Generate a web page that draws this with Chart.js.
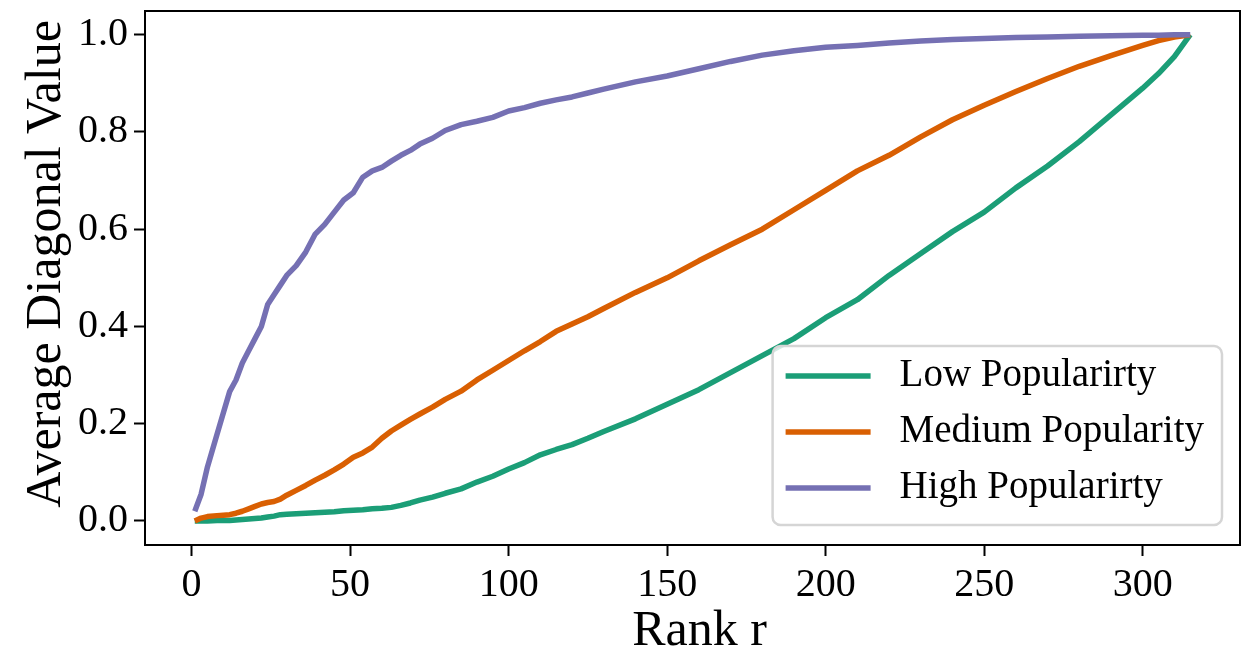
<!DOCTYPE html>
<html>
<head>
<meta charset="utf-8">
<script src="https://cdn.jsdelivr.net/npm/chart.js@4/dist/chart.umd.min.js"></script>
<style>
  body { margin: 0; background: #fff; }
  #rankChart { display: block; }
</style>
</head>
<body>
<canvas id="rankChart" width="1248" height="650"></canvas>
<script>
// values
const ranks = [1, 3, 5, 8, 10, 12, 14, 16, 18, 20, 22, 24, 26, 28, 30, 33, 36, 39, 42, 45, 48, 51, 54, 57, 60,
  63, 66, 69, 72, 76, 80, 85, 90, 95, 100, 105, 110, 115, 120, 125, 130, 140, 150, 160, 170, 180, 190, 200,
  210, 220, 230, 240, 250, 260, 270, 280, 290, 300, 305, 310, 315];

const lowPop = [0.0, 0.0, 0.0, 0.001, 0.001, 0.001, 0.002, 0.003, 0.004, 0.005, 0.006, 0.008, 0.01, 0.013, 0.014,
  0.015, 0.016, 0.017, 0.018, 0.019, 0.021, 0.022, 0.023, 0.025, 0.026, 0.028, 0.032, 0.037, 0.043, 0.049, 0.057,
  0.066, 0.08, 0.092, 0.107, 0.12, 0.136, 0.147, 0.157, 0.17, 0.184, 0.21, 0.24, 0.27, 0.305, 0.34, 0.375, 0.418,
  0.455, 0.505, 0.55, 0.595, 0.635, 0.685, 0.73, 0.78, 0.835, 0.89, 0.92, 0.955, 1.0];

const mediumPop = [0.0, 0.006, 0.009, 0.011, 0.012, 0.013, 0.016, 0.02, 0.025, 0.03, 0.035, 0.038, 0.04, 0.045,
  0.053, 0.063, 0.073, 0.084, 0.094, 0.105, 0.117, 0.131, 0.14, 0.152, 0.17, 0.185, 0.197, 0.209, 0.22, 0.234,
  0.25, 0.267, 0.29, 0.31, 0.33, 0.35, 0.369, 0.39, 0.405, 0.42, 0.437, 0.47, 0.5, 0.535, 0.568, 0.6, 0.64, 0.68,
  0.72, 0.752, 0.79, 0.825, 0.855, 0.883, 0.91, 0.935, 0.957, 0.978, 0.988, 0.995, 1.0];

const highPop = [0.02, 0.055, 0.111, 0.178, 0.222, 0.266, 0.29, 0.325, 0.35, 0.375, 0.4, 0.445, 0.465, 0.485,
  0.505, 0.525, 0.553, 0.59, 0.61, 0.635, 0.66, 0.675, 0.707, 0.72, 0.727, 0.74, 0.752, 0.762, 0.775, 0.787,
  0.803, 0.815, 0.822, 0.83, 0.843, 0.85, 0.859, 0.866, 0.872, 0.88, 0.888, 0.903, 0.915, 0.93, 0.945, 0.958,
  0.967, 0.974, 0.978, 0.983, 0.987, 0.99, 0.992, 0.994, 0.995, 0.997, 0.998, 0.999, 0.999, 1.0, 1.0];

const seriesNames = ['Low Popularirty', 'Medium Popularity', 'High Popularirty'];
const seriesColors = ['#1b9e77', '#d95f02', '#7570b3'];
const xTickValues = [0, 50, 100, 150, 200, 250, 300];
const yTickValues = [0, 0.2, 0.4, 0.6, 0.8, 1.0];
const xTitle = 'Rank r';
const yTitle = 'Average Diagonal Value';

const serif = '"Liberation Serif", "DejaVu Serif", serif';

function toPoints(vals) {
  return ranks.map((r, i) => ({ x: r, y: vals[i] }));
}

// frame round the plot area, axis titles, matplotlib-like legend in the lower right
const framePlugin = {
  id: 'frameAndLegend',
  afterDraw(chart) {
    const ctx = chart.ctx;
    const a = chart.chartArea;
    ctx.save();
    ctx.strokeStyle = '#000';
    ctx.lineWidth = 2;
    ctx.strokeRect(a.left, a.top, a.right - a.left, a.bottom - a.top);

    // axis titles
    ctx.fillStyle = '#000';
    ctx.font = '50px ' + serif;
    ctx.textAlign = 'center';
    ctx.textBaseline = 'alphabetic';
    ctx.fillText(xTitle, (a.left + a.right) / 2 + 7, chart.height - 5);
    ctx.save();
    ctx.translate(60, (a.top + a.bottom) / 2 - 14);
    ctx.rotate(-Math.PI / 2);
    ctx.fillText(yTitle, 0, 0);
    ctx.restore();

    ctx.font = '39px ' + serif;
    let textW = 0;
    chart.data.datasets.forEach(ds => { textW = Math.max(textW, ctx.measureText(ds.label).width); });
    const boxW = 127 + textW + 18;
    const boxH = 179;
    const bx = a.right - 18 - boxW;
    const by = a.bottom - 20 - boxH;

    ctx.beginPath();
    ctx.roundRect(bx, by, boxW, boxH, 8);
    ctx.fillStyle = 'rgba(255,255,255,0.8)';
    ctx.fill();
    ctx.strokeStyle = '#d5d5d5';
    ctx.lineWidth = 2.5;
    ctx.stroke();

    chart.data.datasets.forEach((ds, i) => {
      const yy = by + 30 + i * 56;
      ctx.strokeStyle = ds.borderColor;
      ctx.lineWidth = 5.5;
      ctx.beginPath();
      ctx.moveTo(bx + 13, yy);
      ctx.lineTo(bx + 98, yy);
      ctx.stroke();
      ctx.fillStyle = '#000';
      ctx.textBaseline = 'middle';
      ctx.textAlign = 'left';
      ctx.fillText(ds.label, bx + 127, yy);
    });
    ctx.restore();
  }
};

const datasets = [lowPop, mediumPop, highPop].map((vals, i) => ({
  label: seriesNames[i],
  data: toPoints(vals),
  borderColor: seriesColors[i],
  backgroundColor: seriesColors[i],
  borderWidth: 5.5,
  pointRadius: 0,
  tension: 0,
  fill: false,
  borderJoinStyle: 'round',
  order: 3 - i
}));

new Chart(document.getElementById('rankChart').getContext('2d'), {
  type: 'line',
  data: { datasets: datasets },
  options: {
    responsive: false,
    animation: false,
    devicePixelRatio: 1,
    layout: { padding: { top: 11, right: 8, left: 0, bottom: 0 } },
    plugins: {
      legend: { display: false },
      tooltip: { enabled: false }
    },
    scales: {
      x: {
        type: 'linear',
        min: -14.7,
        max: 330.7,
        afterBuildTicks: axis => { axis.ticks = xTickValues.map(v => ({ value: v })); },
        afterFit: axis => { axis.height = 105; axis.paddingLeft = 0; axis.paddingRight = 0; },
        border: { display: false },
        grid: { drawOnChartArea: false, drawTicks: true, tickLength: 11, tickWidth: 2, tickColor: '#000' },
        ticks: { color: '#000', padding: 5, maxRotation: 0, font: { family: serif, size: 40 } }
      },
      y: {
        min: -0.0494,
        max: 1.0487,
        afterBuildTicks: axis => { axis.ticks = yTickValues.map(v => ({ value: v })); },
        afterFit: axis => { axis.width = 145; axis.paddingTop = 0; axis.paddingBottom = 0; },
        border: { display: false },
        grid: { drawOnChartArea: false, drawTicks: true, tickLength: 11, tickWidth: 2, tickColor: '#000' },
        ticks: { color: '#000', padding: 6, font: { family: serif, size: 40 },
                 callback: v => v.toFixed(1) }
      }
    }
  },
  plugins: [framePlugin]
});
</script>
</body>
</html>
